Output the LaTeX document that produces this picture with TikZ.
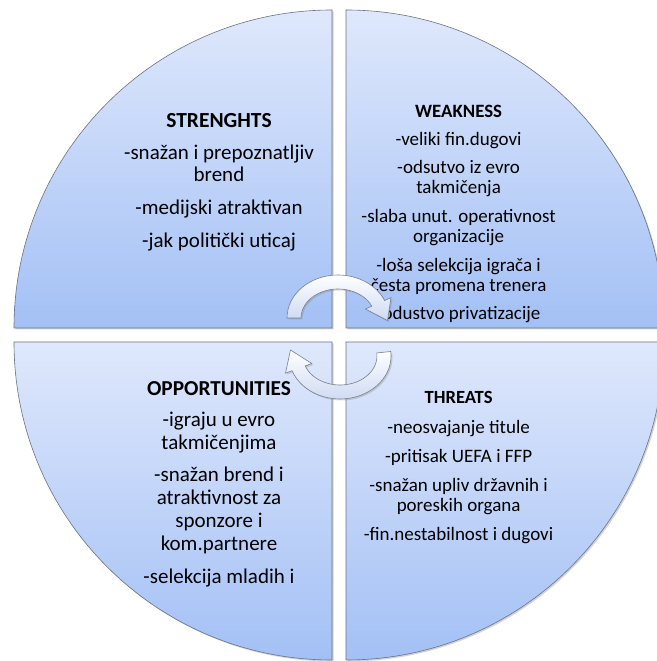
\documentclass[tikz,border=0pt]{standalone}
\usepackage{fontspec}
\setmainfont{Carlito}
\usetikzlibrary{calc,shadows}
\definecolor{qtop}{RGB}{223,232,252}
\definecolor{qbot}{RGB}{163,192,245}
\definecolor{qline}{RGB}{105,115,135}
\definecolor{atop}{RGB}{255,255,255}
\definecolor{abot}{RGB}{205,218,243}
\definecolor{aline}{RGB}{120,128,140}
\begin{document}
\begin{tikzpicture}[x=1pt,y=1pt,
  quad/.style={top color=qtop, bottom color=qbot, draw=qline, line width=0.6pt,
    drop shadow={shadow xshift=1.5pt, shadow yshift=-1.5pt, opacity=0.35}},
  cyc/.style={top color=atop, bottom color=abot, draw=aline, line width=0.6pt,
    drop shadow={shadow xshift=1.5pt, shadow yshift=-1.5pt, opacity=0.3}},
  txt/.style={align=center, inner sep=0pt, text=black}]
\useasboundingbox (0,0) rectangle (656,661);
% quadrants
\path[quad] (332,333) -- (14,333) arc[start angle=180, end angle=90, radius=318] -- cycle;
\path[quad] (346,333) -- (346,651) arc[start angle=90, end angle=0, radius=318] -- cycle;
\path[quad] (332,319) -- (14,319) arc[start angle=180, end angle=270, radius=318] -- cycle;
\path[quad] (346,319) -- (664,319) arc[start angle=0, end angle=-90, radius=318] -- cycle;
% texts
\node[txt, font=\fontsize{21}{22.5}\selectfont] (S) at (219,478.3)
 {{\bfseries\fontsize{21.5}{22.5}\selectfont STRENGHTS}\\[9pt]
 -snažan i prepoznatljiv\\ brend\\[10.5pt] -medijski atraktivan\\[10.5pt] -jak politički uticaj};
\node[txt, font=\fontsize{19}{20}\selectfont] (W) at (458.6,446.8)
 {{\bfseries\fontsize{18.8}{20}\selectfont WEAKNESS}\\[7.6pt]
 -veliki fin.dugovi\\[8.7pt] -odsutvo iz evro\\ takmičenja\\[8.7pt] -slaba unut. operativnost\\ organizacije\\[8.7pt]
 -loša selekcija igrača i\\ česta promena trenera\\[8.7pt] -odustvo privatizacije};
\node[txt, font=\fontsize{21}{23}\selectfont] (O) at (219,176.6)
 {{\bfseries\fontsize{21.3}{23}\selectfont OPPORTUNITIES}\\[8pt]
 -igraju u evro\\ takmičenjima\\[9.2pt] -snažan brend i\\ atraktivnost za\\ sponzore i\\ kom.partnere\\[10.3pt] -selekcija mladih i};
\node[txt, font=\fontsize{19}{20.5}\selectfont] (T) at (458.6,193.2)
 {{\bfseries\fontsize{18.6}{20.5}\selectfont THREATS}\\[8.6pt]
 -neosvajanje titule\\[8.5pt] -pritisak UEFA i FFP\\[8.5pt] -snažan upliv državnih i\\ poreskih organa\\[8.5pt] -fin.nestabilnost i dugovi};
% cycle arrows
\coordinate (c1) at (338,343);
\coordinate (tip1) at (387.5,340.5);
\path[cyc] ($(c1)+(180:51 and 43)$) arc[start angle=180, end angle=24, x radius=51, y radius=43]
  -- ($(c1)+(24:58 and 50)$) -- (tip1) -- ($(c1)+(24:30 and 22)$) -- ($(c1)+(24:37 and 29)$)
  arc[start angle=24, end angle=180, x radius=37, y radius=29] -- cycle;
\coordinate (c2) at (340,305);
\coordinate (tip2) at (290.5,311);
\path[cyc] ($(c2)+(6:51 and 43)$) arc[start angle=6, end angle=-160, x radius=51, y radius=43]
  -- ($(c2)+(-160:58 and 50)$) -- (tip2) -- ($(c2)+(-160:30 and 22)$) -- ($(c2)+(-160:37 and 29)$)
  arc[start angle=-160, end angle=6, x radius=37, y radius=29] -- cycle;
\end{tikzpicture}
\end{document}
